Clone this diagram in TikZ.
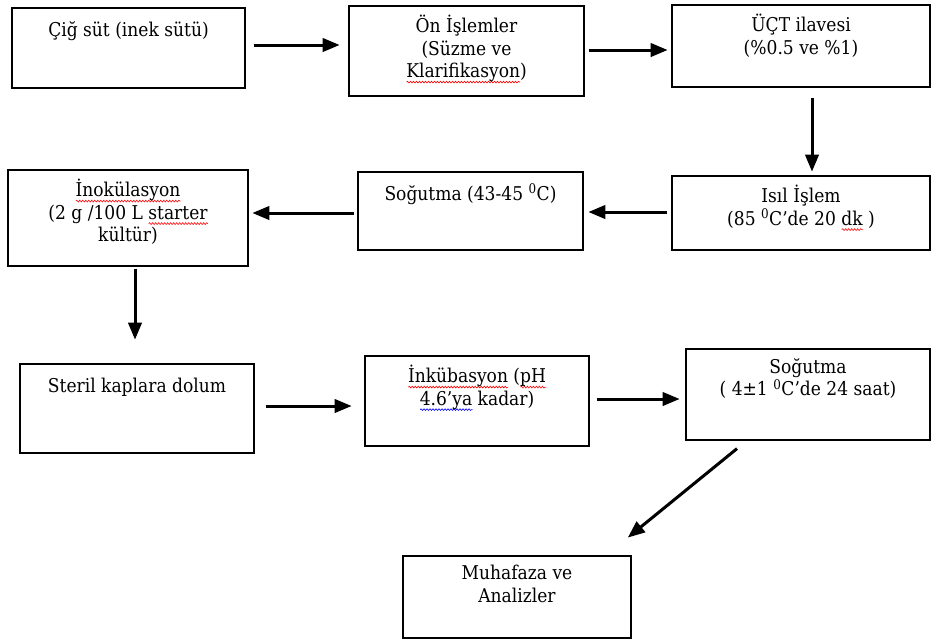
\documentclass[tikz,border=0pt]{standalone}
\usepackage{fontspec}
\setmainfont{DejaVu Serif}[FakeStretch=0.9]
\usepackage{tikz}
\usetikzlibrary{arrows,decorations.pathmorphing}

% yazim denetimi dalgasi
\newsavebox\wavebox
\newcommand\wavy[2]{\sbox\wavebox{#2}\leavevmode\rlap{\tikz[baseline=0pt]\draw[#1, line width=0.6pt,
  decorate, decoration={snake, amplitude=0.9pt, segment length=3pt}] (0pt,-4.5pt) -- (\wd\wavebox,-4.5pt);}\usebox\wavebox}

\tikzset{
  box/.style={draw, line width=1.2pt, inner sep=0pt},
  lbl/.style={anchor=north, yshift=-9.5pt, inner sep=0pt, align=center,
    font=\fontsize{19}{22.5}\selectfont,
    execute at begin node=\rule{0pt}{19pt}},
  arr/.style={line width=3pt, -triangle 45}
}

\begin{document}
\begin{tikzpicture}[x=1pt,y=-1pt]
        \useasboundingbox (0,0) rectangle (933,641);
        % kutular
        \node[box, minimum width=233pt, minimum height=80pt,
          label={[lbl]north:Çiğ süt (inek sütü)}] (b1) at (128.5,48) {};
        \node[box, minimum width=235pt, minimum height=90pt,
          label={[lbl]north:Ön İşlemler\\(Süzme ve\\\wavy{red}{Klarifikasyon})}] (b2) at (466.5,51) {};
        \node[box, minimum width=258pt, minimum height=82pt,
          label={[lbl]north:ÜÇT ilavesi\\(\%0.5 ve \%1)}] (b3) at (801,46) {};
        \node[box, minimum width=258pt, minimum height=74pt,
          label={[lbl]north:Isıl İşlem\\(85 \textsuperscript{0}C’de 20 \wavy{red}{dk} )}] (b4) at (801,213) {};
        \node[box, minimum width=225pt, minimum height=78pt,
          label={[lbl]north:Soğutma (43-45 \textsuperscript{0}C)}] (b5) at (470.5,211) {};
        \node[box, minimum width=240pt, minimum height=96pt,
          label={[lbl]north:\wavy{red}{İnokülasyon}\\(2 g /100 L \wavy{red}{starter}\\kültür)}] (b6) at (128,218) {};
        \node[box, minimum width=234pt, minimum height=89pt,
          label={[lbl]north:Steril kaplara dolum}] (b7) at (137,408.5) {};
        \node[box, minimum width=224pt, minimum height=90pt,
          label={[lbl]north:\wavy{red}{İnkübasyon} (\wavy{red}{pH}\\\wavy{blue}{4.6’ya} kadar)}] (b8) at (477,401) {};
        \node[box, minimum width=244pt, minimum height=91pt,
          label={[lbl]north:Soğutma\\( 4±1 \textsuperscript{0}C’de 24 saat)}] (b9) at (808,394.5) {};
        \node[box, minimum width=228pt, minimum height=82pt,
          label={[lbl]north:Muhafaza ve\\Analizler}] (b10) at (517,597) {};
        % oklar
        \path[arr]
        ([yshift=3pt]b1.east) edge[shorten <=8pt, shorten >=9pt] ([yshift=6pt]b2.west)
        ([yshift=1pt]b2.east) edge[shorten <=4pt, shorten >=4pt] ([yshift=-4pt]b3.west)
        ([xshift=11pt]b3.south) edge[shorten <=10pt, shorten >=4pt] ([xshift=11pt]b4.north)
        ([yshift=1pt]b4.west) edge[shorten <=4pt, shorten >=5pt] ([yshift=-1pt]b5.east)
        ([yshift=-2pt]b5.west) edge[shorten <=3pt, shorten >=4pt] ([yshift=5pt]b6.east)
        ([xshift=7pt]b6.south) edge[shorten <=2pt, shorten >=24pt] ([xshift=-2pt]b7.north)
        ([yshift=2.5pt]b7.east) edge[shorten <=11pt, shorten >=13pt] ([yshift=-5pt]b8.west)
        ([yshift=2pt]b8.east) edge[shorten <=7pt, shorten >=6pt] ([yshift=-4.5pt]b9.west)
        ([shift={(-71pt,-8pt)}]b9.south) edge ([shift={(111pt,18pt)}]b10.north)
        ;
\end{tikzpicture}
\end{document}
